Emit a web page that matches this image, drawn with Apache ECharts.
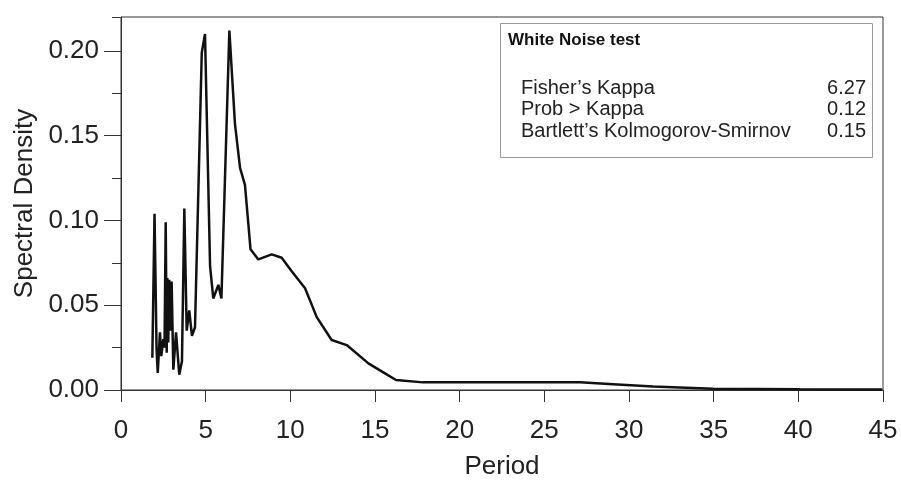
<!DOCTYPE html>
<html>
<head>
<meta charset="utf-8">
<script src="https://cdn.jsdelivr.net/npm/echarts@6/dist/echarts.min.js"></script>
<style>
  html, body { margin: 0; padding: 0; background: #fff; }
  #chart { width: 901px; height: 486px; }
</style>
</head>
<body>
<div id="chart"></div>
<script>
// period and spectral density
var period = [1.85, 1.98, 2.10, 2.17, 2.30, 2.38, 2.50, 2.57, 2.64, 2.70, 2.74, 2.79, 2.85, 2.91, 2.99,
  3.09, 3.25, 3.44, 3.60, 3.74, 3.88, 4.03, 4.19, 4.37, 4.77, 4.96, 5.26, 5.45, 5.75, 5.93,
  6.40, 6.73, 7.03, 7.32, 7.65, 8.11, 8.90, 9.49, 10.08, 10.87, 11.56, 12.44, 13.33, 14.61,
  15.59, 16.24, 17.84, 22.4, 27.1, 29.06, 31.42, 34.97, 40.1, 44.95];
var density = [0.019, 0.104, 0.024, 0.010, 0.034, 0.020, 0.030, 0.025, 0.099, 0.022, 0.066, 0.028, 0.065, 0.035, 0.064,
  0.012, 0.034, 0.009, 0.017, 0.107, 0.035, 0.047, 0.032, 0.037, 0.199, 0.210, 0.073, 0.054, 0.062, 0.054,
  0.212, 0.157, 0.131, 0.121, 0.083, 0.077, 0.080, 0.078, 0.070, 0.060, 0.043, 0.0295, 0.0265, 0.0157,
  0.0098, 0.0059, 0.0045, 0.0045, 0.0045, 0.0034, 0.0020, 0.0008, 0.0004, 0.0003];

var yTicks = [0, 0.05, 0.10, 0.15, 0.20];
var statTitle = 'White Noise test';
var statNames = ['Fisher\u2019s Kappa', 'Prob > Kappa', 'Bartlett\u2019s Kolmogorov-Smirnov'];
var statValues = ['6.27', '0.12', '0.15'];

var font = 'Liberation Sans, Arial, sans-serif';
var ink = '#222';

var points = period.map(function (p, i) { return [p, density[i]]; });

var graphics = [{
  type: 'rect',
  shape: { x: 500.5, y: 23.5, width: 372, height: 134 },
  style: { fill: '#fff', stroke: '#999', lineWidth: 1 },
  z: 10
}, {
  type: 'text',
  left: 508, top: 32,
  style: { text: statTitle, font: 'bold 17px ' + font, fill: '#111' },
  z: 11
}];
statNames.forEach(function (n, i) {
  graphics.push({
    type: 'text', left: 521, top: 78 + i * 21.5,
    style: { text: n, font: '20px ' + font, fill: ink }, z: 11
  });
  graphics.push({
    type: 'text', right: 35, top: 78 + i * 21.5,
    style: { text: statValues[i], font: '20px ' + font, fill: ink, align: 'right' }, z: 11
  });
});

var myChart = echarts.init(document.getElementById('chart'));
myChart.setOption({
  animation: false,
  backgroundColor: '#fff',
  grid: {
    left: 121, right: 18, top: 17, bottom: 96,
    show: true, borderColor: '#333', borderWidth: 1
  },
  xAxis: {
    type: 'value',
    min: 0, max: 45, interval: 5,
    name: 'Period',
    nameLocation: 'middle',
    nameGap: 64,
    nameTextStyle: { fontFamily: font, fontSize: 26, color: ink },
    axisLine: { lineStyle: { color: '#333', width: 1 } },
    axisTick: { length: 12, lineStyle: { color: '#333' } },
    axisLabel: { margin: 28, fontFamily: font, fontSize: 26, color: ink },
    splitLine: { show: false }
  },
  yAxis: [{
    type: 'value',
    min: 0, max: 0.22, interval: 0.05,
    name: 'Spectral Density',
    nameLocation: 'middle',
    nameGap: 82,
    nameTextStyle: { fontFamily: font, fontSize: 26, color: ink },
    axisLine: { show: true, lineStyle: { color: '#333', width: 1 } },
    axisTick: { length: 17, customValues: yTicks, lineStyle: { color: '#333' } },
    axisLabel: {
      margin: 22, fontFamily: font, fontSize: 26, color: ink,
      customValues: yTicks,
      formatter: function (v) { return v.toFixed(2); }
    },
    splitLine: { show: false }
  }, {
    // short ticks every 0.025
    type: 'value',
    position: 'left',
    min: 0, max: 0.22, interval: 0.025,
    axisLine: { show: false },
    axisTick: { length: 9, lineStyle: { color: '#333' } },
    axisLabel: { show: false },
    splitLine: { show: false }
  }],
  series: [{
    type: 'line',
    data: points,
    yAxisIndex: 0,
    showSymbol: false,
    lineStyle: { color: '#111', width: 2.5 },
    z: 3
  }],
  graphic: graphics
});
</script>
</body>
</html>
